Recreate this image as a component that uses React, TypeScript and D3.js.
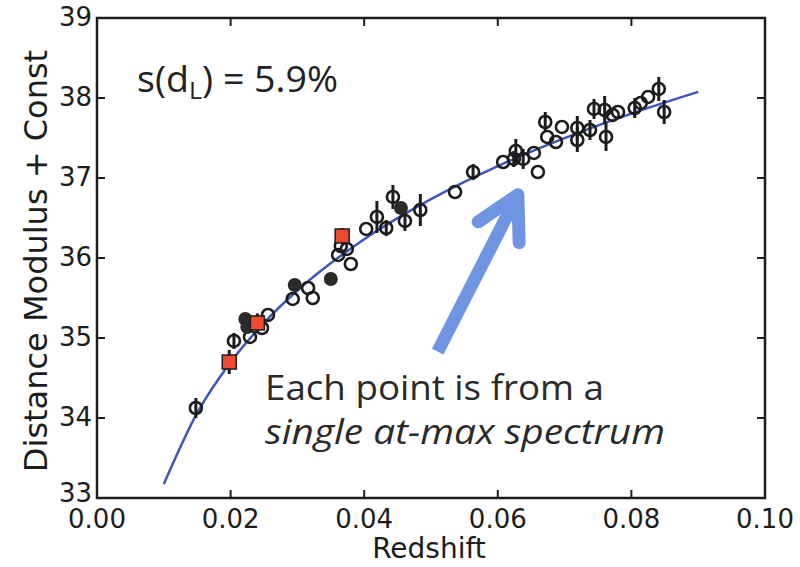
import React, { useEffect, useRef } from 'react';
import * as d3 from 'd3';

// open circles (z, mu, error)
const openZ = [0.0148, 0.0205, 0.0229, 0.0247, 0.0256, 0.0293, 0.0316, 0.0323, 0.0361, 0.0365, 0.0374, 0.038, 0.0403, 0.0419, 0.0433, 0.0443, 0.0461, 0.0484, 0.0536, 0.0563, 0.0608, 0.0627, 0.0624, 0.0638, 0.0654, 0.066, 0.0671, 0.0674, 0.0687, 0.0696, 0.0719, 0.0719, 0.0738, 0.0744, 0.076, 0.0762, 0.0772, 0.078, 0.0805, 0.0814, 0.0825, 0.0841, 0.0849];
const openMu = [34.125, 34.963, 35.013, 35.125, 35.288, 35.488, 35.625, 35.5, 36.038, 36.15, 36.113, 35.925, 36.363, 36.513, 36.375, 36.763, 36.463, 36.6, 36.825, 37.075, 37.2, 37.338, 37.238, 37.238, 37.313, 37.075, 37.7, 37.513, 37.45, 37.638, 37.625, 37.475, 37.6, 37.863, 37.85, 37.513, 37.788, 37.825, 37.875, 37.938, 38.013, 38.113, 37.825];
const openErr = [0.125, 0.1, 0, 0, 0, 0, 0, 0, 0, 0, 0, 0, 0, 0.2, 0.1, 0.15, 0.125, 0.2, 0, 0.1, 0, 0.15, 0.1, 0.125, 0, 0, 0.125, 0, 0, 0, 0.15, 0.15, 0.125, 0.125, 0.175, 0.175, 0, 0, 0.125, 0, 0, 0.15, 0.15];

// filled circles
const filledZ = [0.0222, 0.0225, 0.0296, 0.035, 0.0455];
const filledMu = [35.238, 35.138, 35.663, 35.738, 36.625];

// red squares
const squareZ = [0.0198, 0.024, 0.0367];
const squareMu = [34.7, 35.188, 36.275];
const squareErr = [0.15, 0.12, 0.1];

// fitted curve
const curveZ = [0.01, 0.015, 0.02, 0.025, 0.03, 0.04, 0.05, 0.06, 0.07, 0.08, 0.09];
const curveMu = [33.175, 34.064, 34.698, 35.19, 35.594, 36.235, 36.736, 37.149, 37.499, 37.805, 38.076];

const xTicks = [0, 0.02, 0.04, 0.06, 0.08, 0.1];
const yTicks = [33, 34, 35, 36, 37, 38, 39];

// arrow annotation (data coords)
const arrowFrom = [0.051, 34.83];
const arrowTo = [0.063, 36.79];

const W = 800, H = 567;
const M = { left: 97, right: 765, top: 18, bottom: 498 };

const App = () => {
    const svgRef = useRef<SVGSVGElement>(null);

    useEffect(() => {
        const svg = d3.select(svgRef.current);
        svg.selectAll('*').remove();

        const x = d3.scaleLinear().domain([0, 0.1]).range([M.left, M.right]);
        const y = d3.scaleLinear().domain([33, 39]).range([M.bottom, M.top]);

        svg.append('rect').attr('width', W).attr('height', H).attr('fill', '#fff');

        // fit curve
        const line = d3.line<number>()
            .curve(d3.curveMonotoneX)
            .x((_, i) => x(curveZ[i]))
            .y(d => y(d));
        svg.append('path')
            .datum(curveMu)
            .attr('d', line)
            .attr('fill', 'none')
            .attr('stroke', '#3f55b8')
            .attr('stroke-width', 2.5);

        const ink = '#1c1c1c';

        // error bars
        const bars = svg.append('g').attr('stroke', ink).attr('stroke-width', 3);
        openZ.forEach((z, i) => {
            if (openErr[i] > 0) {
                bars.append('line')
                    .attr('x1', x(z)).attr('x2', x(z))
                    .attr('y1', y(openMu[i] - openErr[i])).attr('y2', y(openMu[i] + openErr[i]));
            }
        });
        squareZ.forEach((z, i) => {
            bars.append('line')
                .attr('x1', x(z)).attr('x2', x(z))
                .attr('y1', y(squareMu[i] - squareErr[i])).attr('y2', y(squareMu[i] + squareErr[i]));
        });

        // open circles
        svg.append('g').selectAll('circle')
            .data(openZ)
            .enter()
            .append('circle')
            .attr('cx', d => x(d))
            .attr('cy', (_, i) => y(openMu[i]))
            .attr('r', 6)
            .attr('fill', 'none')
            .attr('stroke', ink)
            .attr('stroke-width', 2.6);

        // filled circles
        svg.append('g').selectAll('circle')
            .data(filledZ)
            .enter()
            .append('circle')
            .attr('cx', d => x(d))
            .attr('cy', (_, i) => y(filledMu[i]))
            .attr('r', 7)
            .attr('fill', '#2a2a2a');

        // red squares
        svg.append('g').selectAll('rect')
            .data(squareZ)
            .enter()
            .append('rect')
            .attr('x', d => x(d) - 7)
            .attr('y', (_, i) => y(squareMu[i]) - 7)
            .attr('width', 14)
            .attr('height', 14)
            .attr('fill', '#ef4a30')
            .attr('stroke', ink)
            .attr('stroke-width', 1.5);

        // arrow
        const ax0 = x(arrowFrom[0]), ay0 = y(arrowFrom[1]);
        const ax1 = x(arrowTo[0]), ay1 = y(arrowTo[1]);
        const ang = Math.atan2(ay0 - ay1, ax0 - ax1);
        const headLen = 48, spread = 0.5;
        const arrowG = svg.append('g')
            .attr('stroke', '#6f95e2')
            .attr('stroke-width', 13)
            .attr('stroke-linecap', 'round')
            .attr('stroke-linejoin', 'round')
            .attr('fill', 'none');
        arrowG.append('line')
            .attr('x1', ax0).attr('y1', ay0)
            .attr('x2', ax1 + 6 * Math.cos(ang)).attr('y2', ay1 + 6 * Math.sin(ang))
            .attr('stroke-linecap', 'butt');
        arrowG.append('path')
            .attr('d', d3.line()([
                [ax1 + headLen * Math.cos(ang - spread), ay1 + headLen * Math.sin(ang - spread)],
                [ax1, ay1],
                [ax1 + headLen * Math.cos(ang + spread), ay1 + headLen * Math.sin(ang + spread)]
            ]));

        // frame
        svg.append('rect')
            .attr('x', M.left).attr('y', M.top)
            .attr('width', M.right - M.left).attr('height', M.bottom - M.top)
            .attr('fill', 'none')
            .attr('stroke', ink)
            .attr('stroke-width', 2.5);

        const tickLen = 8;
        const ticks = svg.append('g').attr('stroke', ink).attr('stroke-width', 2);
        xTicks.forEach(t => {
            ticks.append('line').attr('x1', x(t)).attr('x2', x(t)).attr('y1', M.bottom).attr('y2', M.bottom - tickLen);
            ticks.append('line').attr('x1', x(t)).attr('x2', x(t)).attr('y1', M.top).attr('y2', M.top + tickLen);
        });
        yTicks.forEach(t => {
            ticks.append('line').attr('y1', y(t)).attr('y2', y(t)).attr('x1', M.left).attr('x2', M.left + tickLen);
            ticks.append('line').attr('y1', y(t)).attr('y2', y(t)).attr('x1', M.right).attr('x2', M.right - tickLen);
        });

        const tickFont = '"DejaVu Sans", sans-serif';
        svg.append('g').selectAll('text')
            .data(xTicks)
            .enter()
            .append('text')
            .attr('x', d => x(d))
            .attr('y', M.bottom + 30)
            .attr('text-anchor', 'middle')
            .attr('font-family', tickFont)
            .attr('font-size', 26)
            .attr('fill', ink)
            .text(d => d3.format('.2f')(d));

        // the lowest label sits a touch higher so it clears 0.00
        svg.append('g').selectAll('text')
            .data(yTicks)
            .enter()
            .append('text')
            .attr('x', M.left - 5)
            .attr('y', d => y(d) + (d === 33 ? 4 : 8))
            .attr('text-anchor', 'end')
            .attr('font-family', tickFont)
            .attr('font-size', 26)
            .attr('fill', ink)
            .text(d => d);

        svg.append('text')
            .attr('x', (M.left + M.right) / 2 - 2)
            .attr('y', 558)
            .attr('text-anchor', 'middle')
            .attr('font-family', tickFont)
            .attr('font-size', 28)
            .attr('fill', ink)
            .text('Redshift');

        svg.append('text')
            .attr('transform', `translate(47,${(M.top + M.bottom) / 2 + 3}) rotate(-90)`)
            .attr('text-anchor', 'middle')
            .attr('font-family', tickFont)
            .attr('font-size', 32)
            .attr('fill', ink)
            .text('Distance Modulus + Const');

        // annotations
        const annFont = '"Open Sans", "Liberation Sans", sans-serif';
        const sd = svg.append('text')
            .attr('x', 137)
            .attr('y', 92)
            .attr('font-family', annFont)
            .attr('font-size', 36)
            .attr('textLength', 201)
            .attr('lengthAdjust', 'spacingAndGlyphs')
            .attr('fill', '#222');
        sd.append('tspan').text('s(d');
        sd.append('tspan').attr('font-size', 24).attr('dy', 7).text('L');
        sd.append('tspan').attr('dy', -7).text(') = 5.9%');

        svg.append('text')
            .attr('x', 265)
            .attr('y', 400)
            .attr('font-family', annFont)
            .attr('font-size', 35)
            .attr('textLength', 339)
            .attr('lengthAdjust', 'spacingAndGlyphs')
            .attr('fill', '#2a2a2a')
            .text('Each point is from a');

        svg.append('text')
            .attr('x', 265)
            .attr('y', 444)
            .attr('font-family', annFont)
            .attr('font-size', 35)
            .attr('font-style', 'italic')
            .attr('textLength', 400)
            .attr('lengthAdjust', 'spacingAndGlyphs')
            .attr('fill', '#2a2a2a')
            .text('single at-max spectrum');
    }, []);

    return (
        <svg ref={svgRef} width={W} height={H} style={{ position: 'absolute', left: 0, top: 0 }} />
    );
};

export default App;
